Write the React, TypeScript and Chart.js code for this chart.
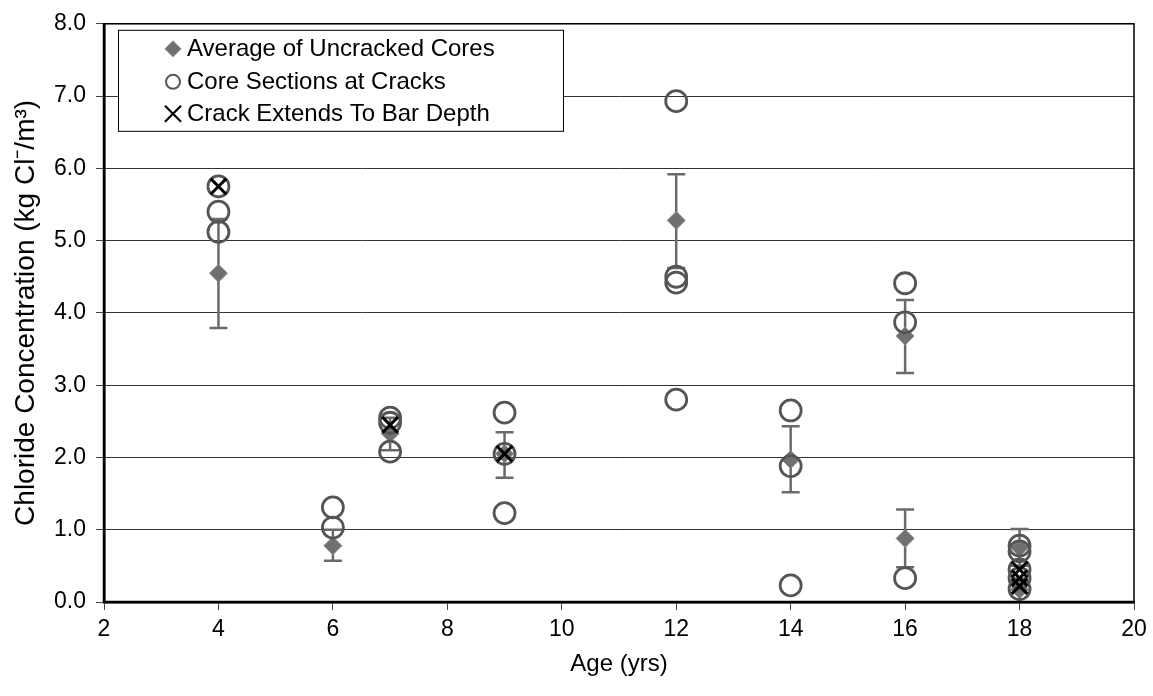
import React, { useEffect, useRef } from "react";
import { Chart, registerables } from "chart.js";

Chart.register(...registerables);

const avgX = [4, 6, 7, 9, 12, 14, 16, 16, 18, 18];
const avgY = [4.55, 0.78, 2.33, 2.05, 5.28, 1.97, 3.68, 0.88, 0.75, 0.17];
const avgLow = [3.79, 0.57, 2.1, 1.72, 4.62, 1.52, 3.17, 0.48, 0.5, null];
const avgHigh = [5.3, 1.0, 2.55, 2.35, 5.92, 2.43, 4.18, 1.28, 1.01, null];

const coreX = [4, 4, 4, 6, 6, 7, 7, 7, 9, 9, 9, 12, 12, 12, 12, 14, 14, 14, 16, 16, 16, 18, 18, 18, 18, 18];
const coreY = [5.75, 5.4, 5.12, 1.31, 1.03, 2.55, 2.48, 2.08, 2.62, 2.05, 1.23, 6.93, 4.5, 4.42, 2.8, 2.65, 1.88, 0.23, 4.41, 3.87, 0.33, 0.78, 0.7, 0.45, 0.33, 0.18];

const crackX = [4, 7, 9, 18, 18, 18];
const crackY = [5.75, 2.45, 2.05, 0.45, 0.33, 0.22];

const xTicks = [2, 4, 6, 8, 10, 12, 14, 16, 18, 20];
const yTicks = [0, 1, 2, 3, 4, 5, 6, 7, 8];

const legendLabels = ["Average of Uncracked Cores", "Core Sections at Cracks", "Crack Extends To Bar Depth"];

const FONT = "'Liberation Sans', Arial, sans-serif";

const pts = (xs: number[], ys: number[]) => xs.map((x, i) => ({ x, y: ys[i] }));

const errorBarPlugin = {
  id: "errorBars",
  beforeDatasetsDraw(chart: any) {
    const { ctx, scales } = chart;
    const xs = scales.x;
    const ys = scales.y;
    ctx.save();
    ctx.strokeStyle = "#6a6a6a";
    ctx.lineWidth = 2.5;
    avgX.forEach((x, i) => {
      const lo = avgLow[i];
      const hi = avgHigh[i];
      if (lo == null || hi == null) return;
      const px = xs.getPixelForValue(x);
      const pl = ys.getPixelForValue(lo);
      const ph = ys.getPixelForValue(hi);
      ctx.beginPath();
      ctx.moveTo(px, pl);
      ctx.lineTo(px, ph);
      ctx.moveTo(px - 9, pl);
      ctx.lineTo(px + 9, pl);
      ctx.moveTo(px - 9, ph);
      ctx.lineTo(px + 9, ph);
      ctx.stroke();
    });
    ctx.restore();
  },
};

const framePlugin = {
  id: "frame",
  afterDatasetsDraw(chart: any) {
    const { ctx, chartArea: a } = chart;
    ctx.save();
    ctx.strokeStyle = "#000";
    ctx.lineWidth = 1.5;
    ctx.strokeRect(a.left, a.top, a.right - a.left, a.bottom - a.top);
    ctx.lineWidth = 2.5;
    ctx.beginPath();
    ctx.moveTo(a.left, a.top);
    ctx.lineTo(a.left, a.bottom);
    ctx.lineTo(a.right, a.bottom);
    ctx.stroke();
    ctx.restore();
  },
  afterDraw(chart: any) {
    const { ctx, chartArea: a } = chart;
    const bx = a.left + 14;
    const by = a.top + 6;
    const bw = 445;
    const bh = 101;
    ctx.save();
    ctx.fillStyle = "#fff";
    ctx.fillRect(bx, by, bw, bh);
    ctx.strokeStyle = "#000";
    ctx.lineWidth = 1;
    ctx.strokeRect(bx + 0.5, by + 0.5, bw, bh);
    ctx.font = `24px ${FONT}`;
    ctx.textBaseline = "middle";
    ctx.fillStyle = "#000";
    const rows = [by + 19, by + 52, by + 84];
    const mx = bx + 55;
    // diamond
    ctx.beginPath();
    ctx.moveTo(mx, rows[0] - 8);
    ctx.lineTo(mx + 8, rows[0]);
    ctx.lineTo(mx, rows[0] + 8);
    ctx.lineTo(mx - 8, rows[0]);
    ctx.closePath();
    ctx.fillStyle = "#707070";
    ctx.fill();
    ctx.strokeStyle = "#8a8a8a";
    ctx.lineWidth = 1;
    ctx.stroke();
    // circle
    ctx.beginPath();
    ctx.arc(mx, rows[1], 7, 0, Math.PI * 2);
    ctx.strokeStyle = "#555";
    ctx.lineWidth = 2;
    ctx.stroke();
    // x
    ctx.beginPath();
    ctx.moveTo(mx - 8, rows[2] - 8);
    ctx.lineTo(mx + 8, rows[2] + 8);
    ctx.moveTo(mx + 8, rows[2] - 8);
    ctx.lineTo(mx - 8, rows[2] + 8);
    ctx.strokeStyle = "#000";
    ctx.lineWidth = 2.2;
    ctx.stroke();
    ctx.fillStyle = "#000";
    legendLabels.forEach((t, i) => ctx.fillText(t, mx + 14, rows[i] + 1));
    ctx.restore();
  },
};

export default function App() {
  const ref = useRef<HTMLCanvasElement>(null);
  useEffect(() => {
    if (!ref.current) return;
    const chart = new Chart(ref.current, {
      type: "scatter",
      data: {
        datasets: [
          {
            label: legendLabels[0],
            data: pts(avgX, avgY),
            pointStyle: "rectRot",
            pointRadius: 9,
            backgroundColor: "#707070",
            borderColor: "#8a8a8a",
            borderWidth: 1,
            order: 3,
          },
          {
            label: legendLabels[1],
            data: pts(coreX, coreY),
            pointStyle: "circle",
            pointRadius: 10.5,
            backgroundColor: "rgba(0,0,0,0)",
            borderColor: "#555",
            borderWidth: 2.8,
            order: 2,
          },
          {
            label: legendLabels[2],
            data: pts(crackX, crackY),
            pointStyle: "crossRot",
            pointRadius: 11,
            backgroundColor: "#000",
            borderColor: "#000",
            borderWidth: 3,
            order: 1,
          },
        ],
      },
      options: {
        animation: false,
        responsive: false,
        maintainAspectRatio: false,
        layout: { padding: { top: 14, right: 19, left: 0, bottom: 0 } },
        plugins: {
          legend: { display: false },
          tooltip: { enabled: false },
        },
        scales: {
          x: {
            type: "linear",
            min: 2,
            max: 20,
            afterBuildTicks: (s: any) => {
              s.ticks = xTicks.map((v) => ({ value: v }));
            },
            afterFit: (s: any) => {
              s.height = 94;
            },
            ticks: {
              color: "#000",
              font: { family: FONT, size: 23 },
              padding: 6,
            },
            grid: {
              drawOnChartArea: false,
              drawTicks: true,
              tickLength: 8,
              color: "#000",
              tickColor: "#444",
            },
            border: { display: true, color: "#000", width: 2.5 },
            title: {
              display: true,
              text: "Age (yrs)",
              color: "#000",
              font: { family: FONT, size: 24 },
              padding: { top: 17, bottom: 17 },
            },
          },
          y: {
            type: "linear",
            min: 0,
            max: 8,
            afterBuildTicks: (s: any) => {
              s.ticks = yTicks.map((v) => ({ value: v }));
            },
            afterFit: (s: any) => {
              s.width = 104;
            },
            ticks: {
              color: "#000",
              font: { family: FONT, size: 23 },
              padding: 10,
              callback: (v: any) => Number(v).toFixed(1),
            },
            grid: {
              color: "#333",
              lineWidth: 1,
              drawTicks: true,
              tickLength: 8,
              tickColor: "#444",
            },
            border: { display: true, color: "#000", width: 2.5 },
            title: {
              display: true,
              text: "Chloride Concentration (kg Cl⁻/m³)",
              color: "#000",
              font: { family: FONT, size: 28 },
              padding: { top: 9, bottom: 9 },
            },
          },
        },
      },
      plugins: [errorBarPlugin, framePlugin],
    } as any);
    return () => chart.destroy();
  }, []);
  return (
    <div style={{ position: "fixed", left: 0, top: 0, width: 1153, height: 696, background: "#fff" }}>
      <canvas ref={ref} width={1153} height={696} style={{ width: 1153, height: 696 }} />
    </div>
  );
}
